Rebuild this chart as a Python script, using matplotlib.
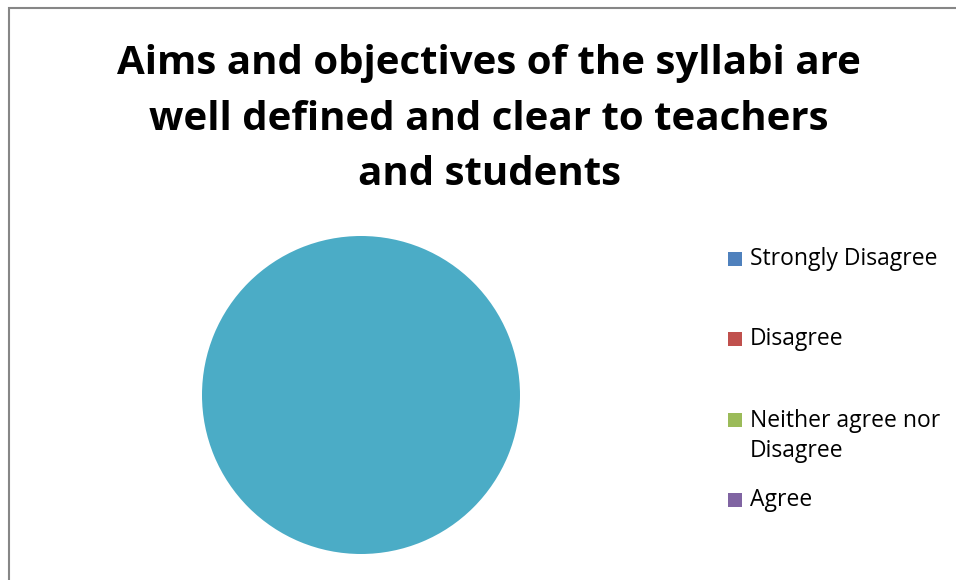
import matplotlib
matplotlib.use("Agg")
import matplotlib.pyplot as plt
from matplotlib.patches import Rectangle

categories = ["Strongly Disagree", "Disagree", "Neither agree nor\nDisagree", "Agree", "Strongly Agree"]
values = [0, 0, 0, 0, 100]
colors = ["#4F81BD", "#C0504D", "#9BBB59", "#8064A2", "#4BACC6"]
title = "Aims and objectives of the syllabi are\nwell defined and clear to teachers\nand students"

W, H = 956, 580
fig = plt.figure(figsize=(W / 100, H / 100), dpi=100)
plt.rcParams['font.family'] = ['Open Sans', 'DejaVu Sans']

# chart border
fig.patches.append(Rectangle((8.5 / W, -0.05), 1.2, (H - 7.5) / H + 0.05,
                             transform=fig.transFigure, fill=False,
                             edgecolor="#868686", linewidth=1.5))

# title
fig.text(489 / W, 1 - 119 / H, title, ha="center", va="center",
         fontsize=29, fontweight="bold", linespacing=1.56, color="black")

# pie
cx, cy, r = 361, 395, 159
ax = fig.add_axes([(cx - r) / W, (H - cy - r) / H, 2 * r / W, 2 * r / H])
ax.pie(values, colors=colors, startangle=90, counterclock=False,
       wedgeprops=dict(linewidth=0))
ax.set_xlim(-1, 1)
ax.set_ylim(-1, 1)
ax.set_aspect("equal")
ax.axis("off")

# legend (the fifth entry falls below the visible area in the reference)
legend_top = [259, 339, 420, 500]   # y of each entry's first line
line_h = 32
for lab, col, y in zip(categories, colors, legend_top):
    fig.patches.append(Rectangle((728 / W, 1 - (y + 7) / H), 14 / W, 14 / H,
                                 transform=fig.transFigure, facecolor=col,
                                 edgecolor="none"))
    nl = lab.count("\n") + 1
    yc = y + (nl - 1) * line_h / 2
    fig.text(750 / W, 1 - yc / H, lab, ha="left", va="center",
             fontsize=16.5, linespacing=1.35, color="black")

fig.savefig("out.png", dpi=100)
